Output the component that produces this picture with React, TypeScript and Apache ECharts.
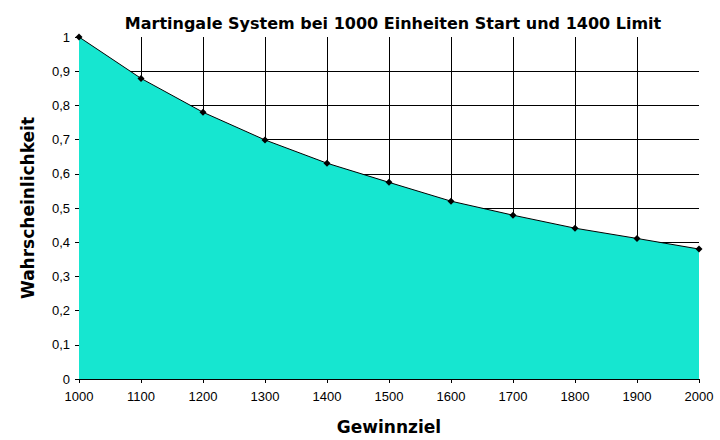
import React, { useEffect, useRef } from 'react';
import * as echarts from 'echarts';

// Gewinnziel (x) und Wahrscheinlichkeit (y)
const gewinnziel = [1000, 1100, 1200, 1300, 1400, 1500, 1600, 1700, 1800, 1900, 2000];
const wahrscheinlichkeit = [1.0, 0.879, 0.78, 0.699, 0.631, 0.575, 0.52, 0.479, 0.441, 0.411, 0.38];

const App: React.FC = () => {
  const chartRef = useRef<HTMLDivElement>(null);

  useEffect(() => {
    if (!chartRef.current) return;
    const chart = echarts.init(chartRef.current, undefined, { renderer: 'svg' });

    const option = {
      animation: false,
      backgroundColor: '#ffffff',
      title: {
        text: 'Martingale System bei 1000 Einheiten Start und 1400 Limit',
        left: 388,
        textAlign: 'center',
        top: 10,
        textStyle: {
          fontFamily: 'DejaVu Sans',
          fontSize: 16,
          fontWeight: 'bold',
          color: '#000'
        }
      },
      grid: {
        left: 79,
        right: 21,
        top: 37,
        bottom: 61
      },
      xAxis: {
        type: 'value',
        min: 1000,
        max: 2000,
        interval: 100,
        name: 'Gewinnziel',
        nameLocation: 'middle',
        nameGap: 39,
        nameTextStyle: {
          fontFamily: 'DejaVu Sans',
          fontSize: 17,
          fontWeight: 'bold',
          color: '#000'
        },
        axisLine: { show: true, lineStyle: { color: '#000', width: 1 } },
        axisTick: { show: true, length: 4, lineStyle: { color: '#000' } },
        axisLabel: {
          fontFamily: 'Liberation Sans',
          fontSize: 13,
          color: '#000',
          margin: 11,
          formatter: (v: number) => String(v)
        },
        splitLine: {
          show: true,
          showMinLine: false,
          showMaxLine: false,
          lineStyle: { color: '#000', width: 1 }
        }
      },
      yAxis: {
        type: 'value',
        min: 0,
        max: 1,
        interval: 0.1,
        name: 'Wahrscheinlichkeit',
        nameLocation: 'middle',
        nameGap: 43,
        nameTextStyle: {
          fontFamily: 'DejaVu Sans',
          fontSize: 17,
          fontWeight: 'bold',
          color: '#000'
        },
        axisLine: { show: true, lineStyle: { color: '#000', width: 1 } },
        axisTick: { show: true, length: 4, lineStyle: { color: '#000' } },
        axisLabel: {
          fontFamily: 'Liberation Sans',
          fontSize: 13,
          color: '#000',
          margin: 9,
          formatter: (v: number) => {
            const r = Math.round(v * 10) / 10;
            return r === 0 || r === 1 ? String(r) : r.toFixed(1).replace('.', ',');
          }
        },
        splitLine: {
          show: true,
          showMinLine: false,
          showMaxLine: false,
          lineStyle: { color: '#000', width: 1 }
        }
      },
      series: [
        {
          type: 'line',
          data: gewinnziel.map((x, i) => [x, wahrscheinlichkeit[i]]),
          symbol: 'diamond',
          symbolSize: 7,
          itemStyle: { color: '#000' },
          lineStyle: { color: '#000', width: 1 },
          areaStyle: { color: '#16E6D0', opacity: 1 },
          z: 1
        }
      ]
    };

    chart.setOption(option);

    return () => {
      chart.dispose();
    };
  }, []);

  return (
    <div
      ref={chartRef}
      style={{ position: 'fixed', left: 0, top: 0, width: '720px', height: '440px' }}
    ></div>
  );
};

export default App;
